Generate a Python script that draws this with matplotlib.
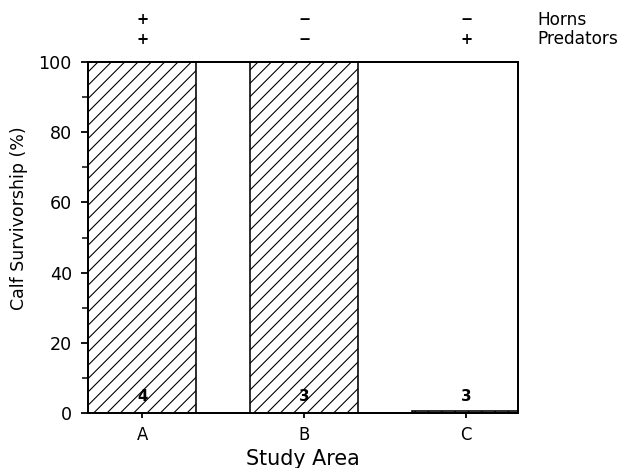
import matplotlib
matplotlib.use('Agg')
import matplotlib.pyplot as plt
from matplotlib.ticker import MultipleLocator

DPI = 80  # hatch spacing scales with dpi, 80 gives the scan's line spacing


def px(p):
    # pixel size -> points at the chosen dpi
    return p * 72.0 / DPI


plt.rcParams['font.family'] = ['DejaVu Sans']
plt.rcParams['hatch.linewidth'] = px(1.1)

# --- data ---
areas = ['A', 'B', 'C']
survivorship = [100, 100, 0.6]
sample_n = ['4', '3', '3']
horns = ['+', '\u2212', '\u2212']
predators = ['+', '\u2212', '+']

fig = plt.figure(figsize=(624 / DPI, 468 / DPI), dpi=DPI, facecolor='white')
ax = fig.add_axes([0.141, 0.1175, 0.689, 0.75])

x = range(len(areas))
ax.bar(x, survivorship, width=0.667, color='white', edgecolor='black',
       hatch='//', linewidth=px(1.6))

for i, n in enumerate(sample_n):
    ax.text(i, 4.6, n, ha='center', va='center', fontsize=px(15),
            fontweight='bold')

tr = ax.get_xaxis_transform()
for i, (h, p) in enumerate(zip(horns, predators)):
    ax.text(i, 1.122, h, transform=tr, ha='center', va='center',
            fontsize=px(14.5), fontweight='bold')
    ax.text(i, 1.065, p, transform=tr, ha='center', va='center',
            fontsize=px(14.5), fontweight='bold')
ax.text(1.046, 1.119, 'Horns', transform=ax.transAxes, ha='left',
        va='center', fontsize=px(17))
ax.text(1.046, 1.065, 'Predators', transform=ax.transAxes, ha='left',
        va='center', fontsize=px(17))

ax.set_xlim(-0.335, 2.32)
ax.set_ylim(0, 100)
ax.set_xticks(list(x))
ax.set_xticklabels(areas, fontsize=px(16.5))
ax.yaxis.set_major_locator(MultipleLocator(20))
ax.yaxis.set_minor_locator(MultipleLocator(10))
ax.tick_params(axis='y', which='major', length=px(7), width=px(1.8),
               labelsize=px(17.5), pad=px(9))
ax.tick_params(axis='y', which='minor', length=px(6), width=px(1.5))
ax.tick_params(axis='x', length=px(5), width=px(1.8), pad=px(8))
for s in ax.spines.values():
    s.set_linewidth(px(2))

ax.set_ylabel('Calf Survivorship (%)', fontsize=px(17.4))
ax.yaxis.set_label_coords(-0.14, 0.556)
ax.set_xlabel('Study Area', fontsize=px(20.6), labelpad=px(5))

fig.savefig('out.png', dpi=DPI, facecolor='white')
